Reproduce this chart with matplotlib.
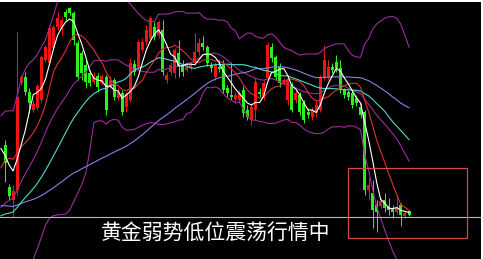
import numpy as np
import pandas as pd
import matplotlib
matplotlib.use("Agg")
import matplotlib.pyplot as plt
from matplotlib.patches import Rectangle

# closes before the first visible bar (feed the moving averages only)
warmup_close = [90, 88, 84, 86, 80, 78, 82, 76, 72, 75, 70, 68, 71, 66, 62, 65, 60, 58, 61, 56,
                52, 55, 50, 48, 51, 47, 44, 46, 42, 40, 43,
                38, 33, 30, 26, 28, 22, 18, 20, 15, 12, 16, 10, 14, 9, 12, 15, 11, 17, 14, 20,
                45, 80, 100, 120, 130,
                112, 100, 105, 110]

opens = [115, 73, 60, 70, 177, 183, 168, 150, 152, 160,
         200, 197, 212, 233, 232, 248, 252, 247, 217, 207,
         195, 187, 178, 184, 177, 183, 175, 180, 162, 167,
         153, 160, 196, 193, 210, 218, 222, 233, 225, 230,
         180, 188, 187, 207, 195, 190, 192, 197, 208, 217,
         213, 195, 183, 193, 195, 172, 165, 161, 160, 170,
         150, 140, 150, 168, 163, 182, 213, 203, 193, 178,
         160, 175, 160, 165, 157, 148, 143, 147, 150, 183,
         183, 193, 198, 192, 170, 168, 167, 162, 153, 148,
         70, 67, 55, 54, 60, 54, 52, 48, 55, 44, 49]
closes = [97, 64, 69, 163, 183, 168, 157, 156, 174, 203,
          213, 232, 233, 242, 240, 243, 247, 220, 183, 187,
          178, 177, 184, 173, 184, 150, 180, 163, 168, 148,
          166, 197, 188, 218, 218, 230, 242, 223, 238, 188,
          185, 195, 210, 193, 188, 193, 195, 208, 217, 213,
          197, 192, 195, 191, 170, 167, 163, 165, 167, 147,
          143, 153, 178, 166, 177, 215, 202, 183, 177, 180,
          180, 150, 167, 148, 140, 145, 150, 155, 183, 200,
          193, 190, 192, 170, 165, 163, 155, 157, 145, 70,
          75, 50, 48, 59, 52, 50, 48, 53, 45, 47, 45]
highs = [120, 76, 75, 228, 185, 188, 172, 160, 176, 205,
         215, 235, 235, 248, 243, 251, 253, 249, 220, 210,
         202, 190, 188, 187, 186, 185, 184, 182, 172, 170,
         168, 202, 200, 220, 222, 235, 244, 238, 240, 240,
         188, 198, 212, 220, 200, 196, 198, 227, 222, 224,
         215, 198, 198, 200, 200, 175, 198, 168, 170, 174,
         155, 157, 182, 172, 180, 218, 217, 205, 197, 182,
         183, 178, 170, 168, 160, 152, 153, 160, 185, 215,
         200, 197, 205, 200, 172, 170, 170, 165, 157, 150,
         82, 80, 60, 62, 67, 62, 55, 65, 57, 50, 50]
lows = [78, 60, 43, 65, 175, 165, 147, 148, 150, 158,
        198, 195, 210, 230, 225, 240, 245, 215, 180, 180,
        172, 174, 176, 168, 175, 145, 172, 160, 160, 145,
        148, 158, 185, 190, 208, 215, 220, 220, 222, 185,
        177, 185, 182, 183, 184, 188, 190, 195, 205, 210,
        194, 188, 180, 188, 167, 163, 160, 158, 157, 143,
        140, 135, 140, 163, 160, 180, 198, 180, 173, 175,
        155, 148, 157, 145, 137, 142, 140, 143, 148, 180,
        180, 187, 188, 167, 162, 160, 152, 154, 142, 65,
        60, 32, 28, 52, 48, 45, 42, 46, 34, 42, 44]

support_level = 43.5
caption = "黄金弱势低位震荡行情中"

UP = "#f01414"
DOWN = "#2cf01c"

W, H, DPI = 483, 259, 100
STEP = 4.04  # pixels per bar
fig = plt.figure(figsize=(W / DPI, H / DPI), dpi=DPI, facecolor="white")
ax = fig.add_axes([0, 0, 481 / W, 257 / H])
ax.set_facecolor("black")
x0 = -1.24
ax.set_xlim(x0, x0 + 481 / STEP)
ax.set_ylim(1, 258)
ax.set_xticks([])
ax.set_yticks([])
for s in ax.spines.values():
    s.set_visible(False)

n = len(closes)
x = np.arange(n)
o = np.array(opens, float)
c = np.array(closes, float)
h = np.array(highs, float)
l = np.array(lows, float)
cols = [UP if ci >= oi else DOWN for oi, ci in zip(o, c)]

ax.vlines(x, l, h, colors=cols, lw=0.72, zorder=2)
body = np.maximum(np.abs(c - o), 1.2)
ax.bar(x, body, bottom=np.minimum(o, c), width=0.74, color=cols, lw=0, zorder=3)

# indicators
full = pd.Series(list(warmup_close) + list(closes), dtype=float)
xf = np.arange(len(full)) - len(warmup_close)
show = xf >= -1

def ma(p):
    return full.rolling(p).mean().to_numpy()

mid = ma(20)
sd = full.rolling(20).std(ddof=0).to_numpy()
lines = [
    (mid + 2 * sd, "#9b2d9b"),
    (mid - 2 * sd, "#9b2d9b"),
    (mid, "#9b2d9b"),
    (ma(60), "#8a7fe8"),
    (ma(30), "#4fdccc"),
    (ma(10), "#e03030"),
    (ma(5), "#ffffff"),
]
for y, col in lines:
    ax.plot(xf[show], y[show], color=col, lw=0.8, zorder=4)

ax.axhline(support_level, color="#b8b8b8", lw=0.8, zorder=5)

ax.add_patch(Rectangle((84.9, 22), 114.35 - 84.9, 92 - 22, fill=False,
                       edgecolor="#d24b4b", lw=0.9, zorder=6))

fig.text(101 / W, 1 - 234 / H, caption, color="white", fontsize=15,
         family=["Noto Sans CJK SC", "DejaVu Sans"], ha="left", va="center")

fig.savefig("out.png", dpi=DPI, facecolor=fig.get_facecolor())
